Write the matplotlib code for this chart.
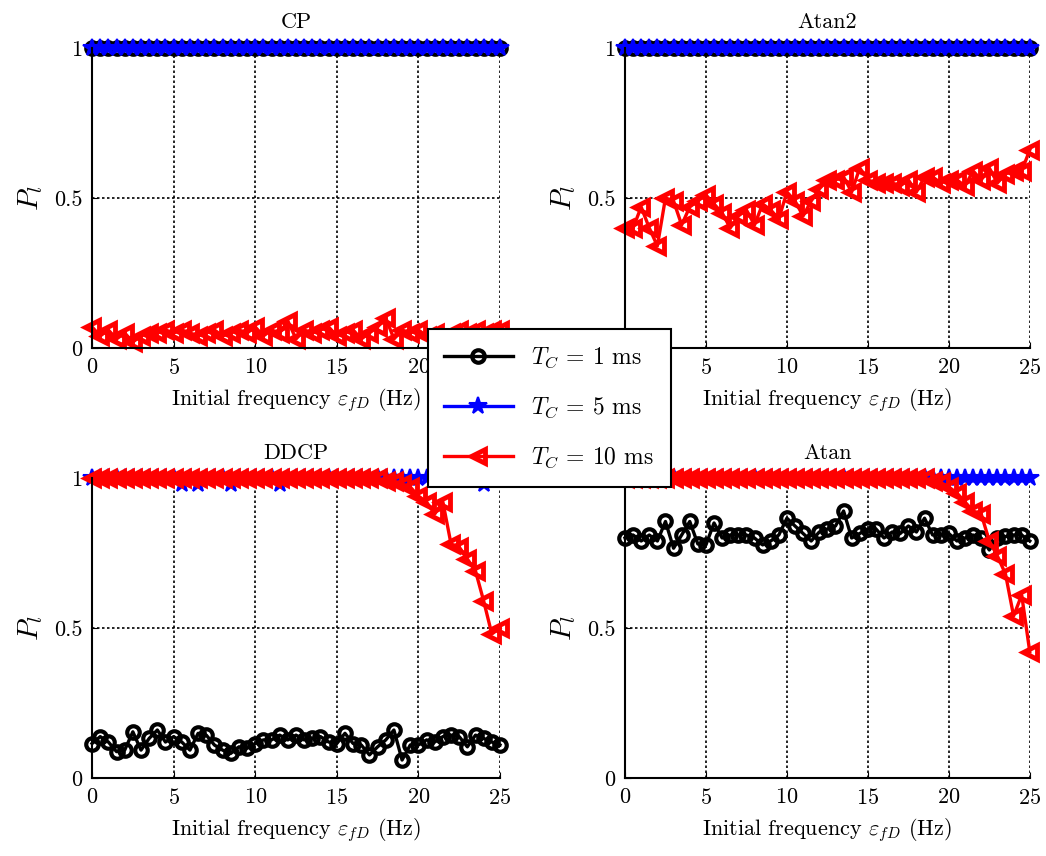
import numpy as np
import matplotlib
matplotlib.use('Agg')
import matplotlib.pyplot as plt

plt.rcParams['font.family'] = 'serif'
plt.rcParams['font.serif'] = ['cmr10']
plt.rcParams['mathtext.fontset'] = 'cm'
plt.rcParams['axes.formatter.use_mathtext'] = True

# x axis: initial frequency (Hz), step 0.5
freq = np.arange(0, 25.01, 0.5)

# ---- CP ----
cp_1ms = [1.0] * 51
cp_5ms = [1.0] * 51
cp_10ms = [0.07, 0.04, 0.06, 0.03, 0.05, 0.02, 0.04, 0.05, 0.05, 0.06,
           0.05, 0.06, 0.05, 0.04, 0.05, 0.06, 0.04, 0.05, 0.06, 0.05,
           0.07, 0.04, 0.06, 0.05, 0.09, 0.03, 0.06, 0.05, 0.06, 0.07,
           0.04, 0.05, 0.06, 0.03, 0.05, 0.07, 0.10, 0.03, 0.06, 0.05,
           0.06, 0.04, 0.05, 0.03, 0.05, 0.06, 0.05, 0.06, 0.05, 0.06, 0.06]

# ---- Atan2 ----
atan2_1ms = [1.0] * 51
atan2_5ms = [1.0] * 51
atan2_10ms = [0.40, 0.40, 0.47, 0.40, 0.34, 0.50, 0.49, 0.41, 0.47, 0.49,
              0.51, 0.48, 0.45, 0.40, 0.44, 0.46, 0.41, 0.48, 0.46, 0.43,
              0.52, 0.49, 0.44, 0.49, 0.53, 0.56, 0.56, 0.57, 0.52, 0.60,
              0.56, 0.55, 0.55, 0.55, 0.54, 0.56, 0.52, 0.57, 0.57, 0.55,
              0.56, 0.56, 0.54, 0.59, 0.56, 0.60, 0.55, 0.58, 0.59, 0.59, 0.66]

# ---- DDCP ----
ddcp_1ms = [0.115, 0.138, 0.12, 0.088, 0.093, 0.154, 0.093, 0.132, 0.16, 0.12,
            0.138, 0.12, 0.093, 0.149, 0.143, 0.11, 0.093, 0.082, 0.104, 0.099,
            0.115, 0.127, 0.127, 0.143, 0.127, 0.143, 0.127, 0.132, 0.138, 0.12,
            0.115, 0.149, 0.115, 0.11, 0.077, 0.104, 0.127, 0.16, 0.06, 0.11,
            0.11, 0.127, 0.12, 0.138, 0.143, 0.138, 0.104, 0.143, 0.132, 0.12, 0.11]
ddcp_5ms = [1.0] * 51
for i, v in [(11, 0.98), (13, 0.98), (17, 0.98), (23, 0.98), (48, 0.98)]:
    ddcp_5ms[i] = v
ddcp_10ms = [1.0] * 35 + [1.0, 0.99, 0.99, 0.98, 0.97, 0.94, 0.92, 0.88, 0.92,
                          0.78, 0.77, 0.73, 0.69, 0.59, 0.48, 0.50]

# ---- Atan ----
atan_1ms = [0.80, 0.81, 0.79, 0.81, 0.79, 0.855, 0.766, 0.81, 0.855, 0.78,
            0.777, 0.85, 0.80, 0.81, 0.81, 0.81, 0.80, 0.777, 0.79, 0.81,
            0.866, 0.84, 0.815, 0.79, 0.82, 0.83, 0.84, 0.89, 0.80, 0.815,
            0.83, 0.83, 0.80, 0.82, 0.815, 0.84, 0.82, 0.866, 0.81, 0.81,
            0.815, 0.79, 0.80, 0.81, 0.80, 0.76, 0.80, 0.805, 0.81, 0.81, 0.79]
atan_5ms = [1.0] * 51
atan_10ms = [1.0] * 38 + [0.99, 0.985, 0.97, 0.95, 0.92, 0.89, 0.88, 0.79,
                          0.74, 0.68, 0.54, 0.61, 0.42]

titles = ['CP', 'Atan2', 'DDCP', 'Atan']
data = [(cp_1ms, cp_5ms, cp_10ms), (atan2_1ms, atan2_5ms, atan2_10ms),
        (ddcp_1ms, ddcp_5ms, ddcp_10ms), (atan_1ms, atan_5ms, atan_10ms)]
labels = ['$T_C$ = 1 ms', '$T_C$ = 5 ms', '$T_C$ = 10 ms']

fig = plt.figure(figsize=(10.46, 8.56), dpi=100)
positions = [[0.088, 0.5935, 0.390, 0.3505], [0.5975, 0.5935, 0.387, 0.3505],
             [0.088, 0.0911, 0.390, 0.3505], [0.5975, 0.0911, 0.387, 0.3505]]

for k in range(4):
    ax = fig.add_axes(positions[k])
    y1, y5, y10 = data[k]
    ax.plot(freq, y1, '-o', color='k', lw=2.4, ms=9, mfc='none', mew=3,
            clip_on=False, label=labels[0])
    ax.plot(freq, y5, '-*', color='b', lw=2.4, ms=13, mew=1.5,
            clip_on=False, label=labels[1])
    ax.plot(freq, y10, '-<', color='r', lw=2.4, ms=10, mfc='none', mew=3.5,
            clip_on=False, label=labels[2])
    ax.set_xlim(0, 25)
    ax.set_ylim(0, 1)
    ax.set_xticks([0, 5, 10, 15, 20, 25])
    ax.set_yticks([0, 0.5, 1])
    ax.set_yticklabels(['0', '0.5', '1'])
    ax.grid(True, linestyle=(0, (1.5, 1.5)), color='k', lw=1.2)
    ax.spines['top'].set_visible(False)
    ax.spines['right'].set_visible(False)
    ax.spines['left'].set_linewidth(1.5)
    ax.spines['bottom'].set_linewidth(1.5)
    ax.tick_params(direction='in', length=4, labelsize=16, pad=7)
    ax.set_title(titles[k], fontsize=16, pad=14)
    ax.set_xlabel('Initial frequency $\\varepsilon_{fD}$ (Hz)', fontsize=16,
                  labelpad=6)
    ax.set_ylabel('$P_l$', fontsize=21, labelpad=6)
    if k == 0:
        handles, labs = ax.get_legend_handles_labels()

leg = fig.legend(handles, labs, loc='center', bbox_to_anchor=(0.525, 0.5234),
                 fontsize=17, fancybox=False, framealpha=1, edgecolor='k',
                 handlelength=2.9, borderpad=0.7, labelspacing=1.1)
leg.get_frame().set_linewidth(1.5)

fig.savefig('out.png', dpi=100)
